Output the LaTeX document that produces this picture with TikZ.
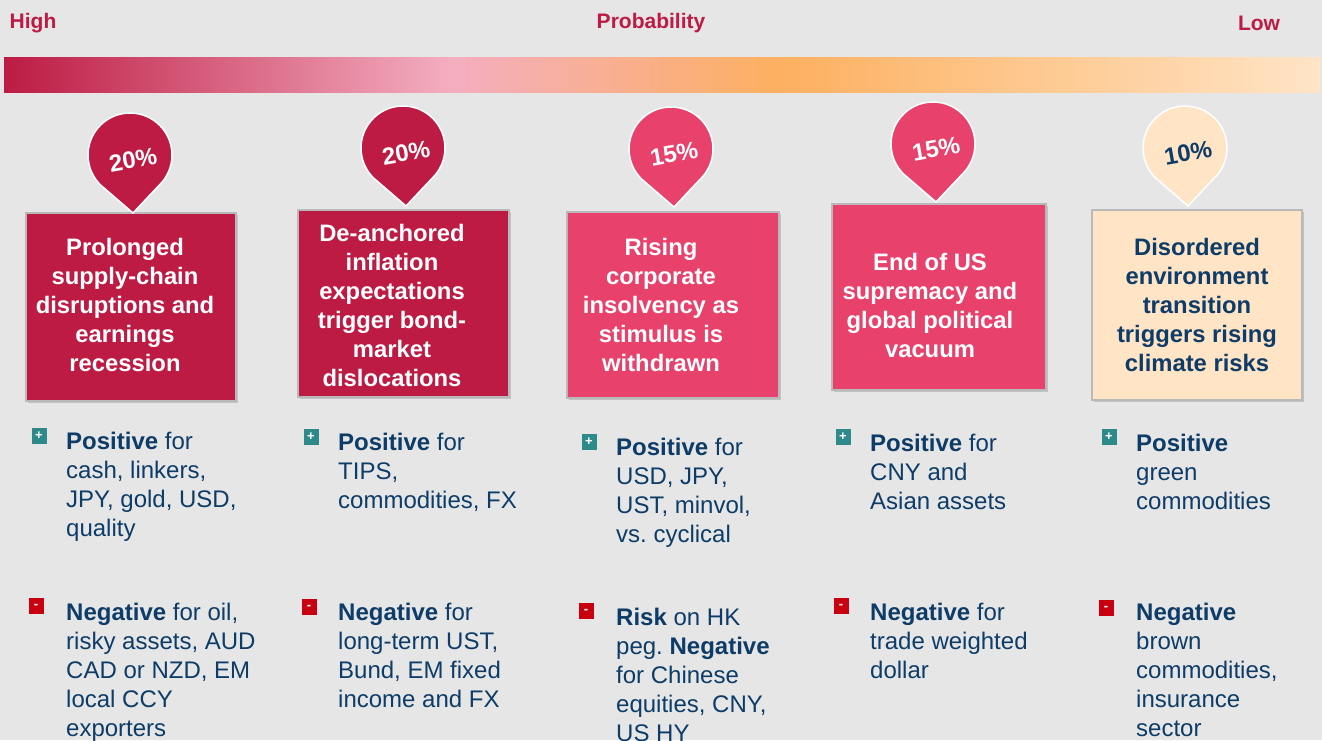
\documentclass[tikz,border=0pt]{standalone}
\usepackage{fontspec}
\setmainfont{Liberation Sans}
\usetikzlibrary{shadows}
\frenchspacing

\definecolor{bgray}{HTML}{E6E6E6}
\definecolor{crimson}{HTML}{BD1B44}
\definecolor{rose}{HTML}{E8416B}
\definecolor{cream}{HTML}{FFE4C6}
\definecolor{navy}{HTML}{0D3C68}
\definecolor{tealbox}{HTML}{2E8A8A}
\definecolor{redbox}{HTML}{C8000F}
\definecolor{pinkmid}{HTML}{F4AEC0}
\definecolor{orangemid}{HTML}{FDB060}

\tikzset{
  toptext/.style = {text = crimson, font = \bfseries\fontsize{21}{21}\selectfont},
  card/.style = {draw = gray!55, line width = 2pt, inner sep = 0pt,
    drop shadow = {shadow xshift = 2pt, shadow yshift = -2pt, opacity = .35}},
  cardtext/.style = {align = center, inner sep = 0pt,
    font = \bfseries\fontsize{23.8}{29}\selectfont},
  pcttext/.style = {rotate = 10, inner sep = 0pt,
    font = \bfseries\fontsize{24}{24}\selectfont},
  note/.style = {anchor = north west, align = left, inner sep = 0pt,
    text = navy, font = \fontsize{24}{29}\selectfont},
  plusicon/.style = {fill = tealbox, minimum width = 15, minimum height = 16,
    inner sep = 0pt, text = white, font = \bfseries\fontsize{13}{13}\selectfont},
  minusicon/.style = {plusicon, fill = redbox}
}

\begin{document}
\begin{tikzpicture}[x = 1pt, y = -1pt]

  \clip (0,0) rectangle (1322,740);
  \fill [bgray] (0,0) rectangle (1322,740);

  % probability scale
  \node (high) at (33,23) [toptext] {High};
  \node (prob) at (651,23) [toptext] {Probability};
  \node (low) at (1259,23) [toptext] {Low};

  \shade [left color = crimson, right color = pinkmid] (4,57) rectangle (451,92);
  \shade [left color = pinkmid, right color = orangemid] (450,57) rectangle (781,92);
  \shade [left color = orangemid, right color = cream] (780,57) rectangle (1320,92);

  % scenario cards
  \node (c1) at (131,307) [card, fill = crimson, minimum width = 210, minimum height = 188] {};
  \node (c2) at (403.5,303.5) [card, fill = crimson, minimum width = 211, minimum height = 187] {};
  \node (c3) at (673,305) [card, fill = rose, minimum width = 212, minimum height = 186] {};
  \node (c4) at (939,297) [card, fill = rose, minimum width = 214, minimum height = 186] {};
  \node (c5) at (1197,305) [card, fill = cream, minimum width = 210, minimum height = 190] {};

  \node (t1) at (125,305) [cardtext, text = white]
    {Prolonged\\supply-chain\\disruptions and\\earnings\\recession};
  \node (t2) at (392,305) [cardtext, text = white]
    {De-anchored\\inflation\\expectations\\trigger bond-\\market\\dislocations};
  \node (t3) at (661,305) [cardtext, text = white]
    {Rising\\corporate\\insolvency as\\stimulus is\\withdrawn};
  \node (t4) at (930,305) [cardtext, text = white]
    {End of US\\supremacy and\\global political\\vacuum};
  \node (t5) at (1197,305) [cardtext, text = navy]
    {Disordered\\environment\\transition\\triggers rising\\climate risks};

  % probability pins
  \foreach \n/\cx/\cy/\col/\tcol/\pct in {1/130/155/crimson/white/20,
      2/403/148/crimson/white/20, 3/671/149/rose/white/15,
      4/933/144/rose/white/15, 5/1185/148/cream/navy/10}
  {
    \filldraw [fill = \col, draw = white, line width = 1.5pt, line join = round]
      (\cx+3,\cy+58) -- ([shift = {(46.4:42)}] \cx,\cy)
      arc [start angle = 46.4, end angle = -226.4, radius = 42] -- cycle;
    \node (pct\n) at (\cx+3,\cy+5) [pcttext, text = \tcol] {\pct\%};
  }

  % effects on assets
  \node (plus1) at (39,436) [plusicon] {+};
  \node (pos1) at (66,429) [note] {\strut\textbf{Positive} for\\cash, linkers,\\JPY, gold, USD,\\quality};
  \node (minus1) at (36,606) [minusicon] {-};
  \node (neg1) at (66,600) [note] {\strut\textbf{Negative} for oil,\\risky assets, AUD\\CAD or NZD, EM\\local CCY\\exporters};

  \node (plus2) at (311,437) [plusicon] {+};
  \node (pos2) at (338,430) [note] {\strut\textbf{Positive} for\\TIPS,\\commodities, FX};
  \node (minus2) at (309,607) [minusicon] {-};
  \node (neg2) at (338,600) [note] {\strut\textbf{Negative} for\\long-term UST,\\Bund, EM fixed\\income and FX};

  \node (plus3) at (589,442) [plusicon] {+};
  \node (pos3) at (616,435) [note] {\strut\textbf{Positive} for\\USD, JPY,\\UST, minvol,\\vs. cyclical};
  \node (minus3) at (586,611) [minusicon] {-};
  \node (neg3) at (616,605) [note] {\strut\textbf{Risk} on HK\\peg. \textbf{Negative}\\for Chinese\\equities, CNY,\\US HY};

  \node (plus4) at (843,437) [plusicon] {+};
  \node (pos4) at (870,431) [note] {\strut\textbf{Positive} for\\CNY and\\Asian assets};
  \node (minus4) at (841,606) [minusicon] {-};
  \node (neg4) at (870,600) [note] {\strut\textbf{Negative} for\\trade weighted\\dollar};

  \node (plus5) at (1109,437) [plusicon] {+};
  \node (pos5) at (1136,431) [note] {\strut\textbf{Positive}\\green\\commodities};
  \node (minus5) at (1106,608) [minusicon] {-};
  \node (neg5) at (1136,600) [note] {\strut\textbf{Negative}\\brown\\commodities,\\insurance\\sector};

\end{tikzpicture}
\end{document}
